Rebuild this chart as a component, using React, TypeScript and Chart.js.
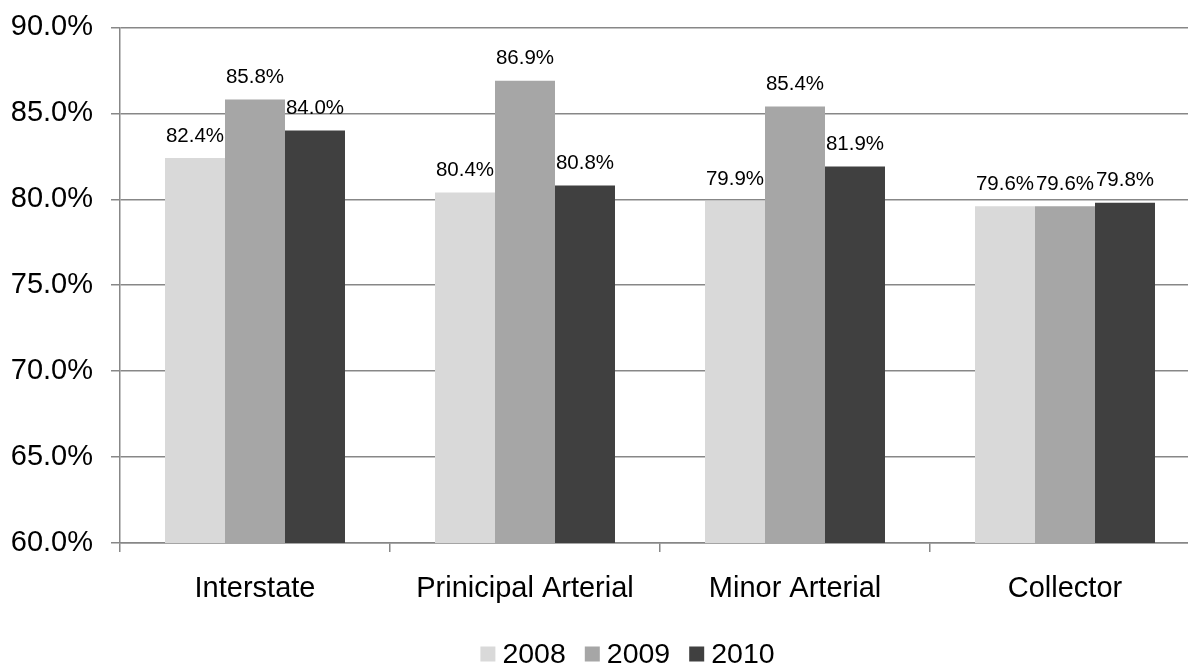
import React, { useEffect, useRef } from "react";
import { Chart, registerables } from "chart.js";

Chart.register(...registerables);

// Road functional classes and yearly shares (percent)
const categories = ["Interstate", "Prinicipal Arterial", "Minor Arterial", "Collector"];
const seriesNames = ["2008", "2009", "2010"];
const values2008 = [82.4, 80.4, 79.9, 79.6];
const values2009 = [85.8, 86.9, 85.4, 79.6];
const values2010 = [84.0, 80.8, 81.9, 79.8];
const seriesColors = ["#d9d9d9", "#a6a6a6", "#404040"];

// Value axis range
const yMin = 60;
const yMax = 90;
const yStep = 5;

const FONT = "'Liberation Sans', Arial, sans-serif";
const GRID = "#878787";
const CANVAS_SHIFT = 8;

const valueLabels = {
  id: "valueLabels",
  afterDatasetsDraw(chart: any) {
    const ctx = chart.ctx;
    ctx.save();
    ctx.font = `20.5px ${FONT}`;
    ctx.fillStyle = "#000";
    ctx.textAlign = "center";
    ctx.textBaseline = "middle";
    chart.data.datasets.forEach((ds: any, i: number) => {
      const meta = chart.getDatasetMeta(i);
      meta.data.forEach((bar: any, j: number) => {
        ctx.fillText(ds.data[j].toFixed(1) + "%", bar.x, bar.y - 22);
      });
    });
    ctx.restore();
  },
};

const bottomLegend = {
  id: "bottomLegend",
  afterDraw(chart: any) {
    const ctx = chart.ctx;
    ctx.save();
    ctx.font = `28.5px ${FONT}`;
    ctx.textBaseline = "middle";
    ctx.textAlign = "left";
    const box = 15;
    const gapText = 7;
    const gapItem = 19;
    const items = chart.data.datasets.map((ds: any) => ({
      label: ds.label,
      color: ds.backgroundColor,
      w: ctx.measureText(ds.label).width,
    }));
    const total =
      items.reduce((s: number, it: any) => s + box + gapText + it.w, 0) +
      gapItem * (items.length - 1);
    let x = chart.width / 2 - total / 2;
    const cy = 654 + CANVAS_SHIFT;
    items.forEach((it: any) => {
      ctx.fillStyle = it.color;
      ctx.fillRect(x, cy - box / 2, box, box);
      x += box + gapText;
      ctx.fillStyle = "#000";
      ctx.fillText(it.label, x, cy + 1);
      x += it.w + gapItem;
    });
    ctx.restore();
  },
};

export default function App() {
  const canvasRef = useRef<HTMLCanvasElement | null>(null);

  useEffect(() => {
    if (!canvasRef.current) return;
    const datasets = [values2008, values2009, values2010].map((vals, i) => ({
      label: seriesNames[i],
      data: vals,
      backgroundColor: seriesColors[i],
      borderWidth: 0,
      categoryPercentage: 2 / 3,
      barPercentage: 1,
    }));
    const chart = new Chart(canvasRef.current, {
      type: "bar",
      data: { labels: categories, datasets },
      options: {
        responsive: false,
        animation: false,
        layout: { padding: { top: 19, right: 55, left: 0, bottom: 0 } },
        plugins: {
          legend: { display: false },
          tooltip: { enabled: false },
        },
        scales: {
          x: {
            grid: {
              display: true,
              drawOnChartArea: false,
              drawTicks: true,
              tickLength: 9,
              color: GRID,
              lineWidth: 1.5,
              offset: true,
            },
            border: { display: true, color: GRID, width: 1.5 },
            ticks: {
              color: "#000",
              font: { family: FONT, size: 29 },
              padding: 20,
              maxRotation: 0,
              autoSkip: false,
            },
            afterFit(scale: any) {
              scale.height = 123;
            },
          },
          y: {
            min: yMin,
            max: yMax,
            grid: {
              color: GRID,
              lineWidth: 1.5,
              drawTicks: true,
              tickLength: 9,
            },
            border: { display: true, color: GRID, width: 1.5 },
            ticks: {
              stepSize: yStep,
              color: "#000",
              padding: 18,
              font: { family: FONT, size: 29 },
              callback: (v: any) => Number(v).toFixed(1) + "%",
            },
            afterFit(scale: any) {
              scale.width = 120;
            },
          },
        },
      },
      plugins: [valueLabels, bottomLegend],
    });
    return () => chart.destroy();
  }, []);

  return (
    <div
      style={{
        position: "absolute",
        left: 0,
        top: 0,
        width: 1188,
        height: 666,
        overflow: "hidden",
        background: "#fff",
      }}
    >
      <canvas
        ref={canvasRef}
        width={1255}
        height={666 + CANVAS_SHIFT}
        style={{ position: "absolute", left: 0, top: -CANVAS_SHIFT }}
      />
    </div>
  );
}
